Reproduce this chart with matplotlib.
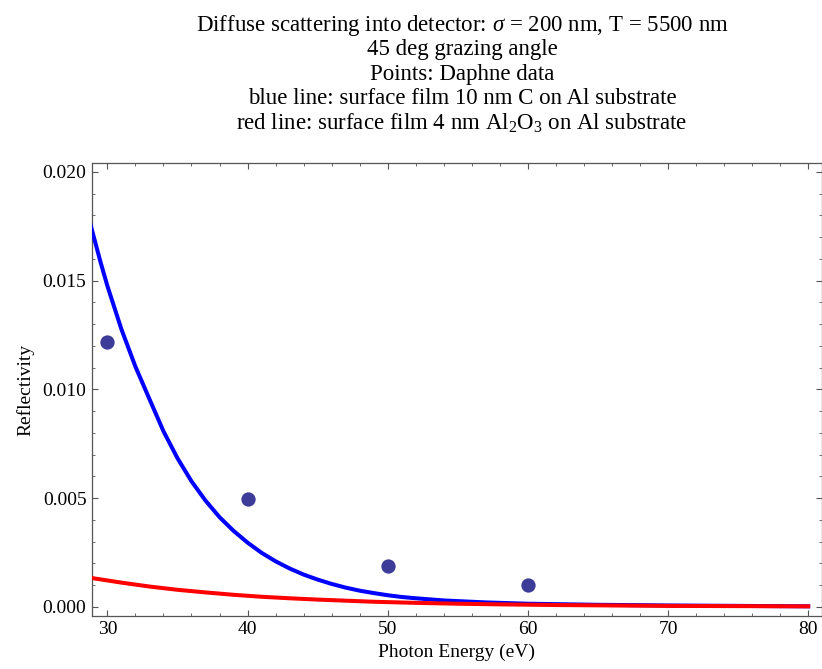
import matplotlib
matplotlib.use("Agg")
import matplotlib.pyplot as plt
from matplotlib.ticker import MultipleLocator

plt.rcParams["font.family"] = ["Liberation Serif", "DejaVu Serif"]
plt.rcParams["mathtext.fontset"] = "custom"
plt.rcParams["mathtext.rm"] = "Liberation Serif"
plt.rcParams["mathtext.it"] = "Liberation Serif:italic"

# Daphne data points
energy_pts = [30, 40, 50, 60]
refl_pts = [0.01218, 0.00497, 0.00187, 0.00098]

# blue line: 10 nm C film on Al
energy_c = [28.8, 29.5, 30, 31, 32, 33, 34, 35, 36, 37, 38, 39, 40, 41, 42,
            43, 44, 45, 46, 47, 48, 49, 50, 51, 52, 53, 54, 55, 56, 57, 58,
            60, 62, 65, 70, 75, 80]
refl_c = [0.01756, 0.01587, 0.01475, 0.01276, 0.01104, 0.00955, 0.00807,
          0.00683, 0.00577, 0.00488, 0.00412, 0.00349, 0.00295, 0.00248,
          0.00209, 0.00176, 0.00148, 0.00125, 0.00105, 0.00088, 0.00074,
          0.00063, 0.00053, 0.00045, 0.00039, 0.00034, 0.00029, 0.00026,
          0.00023, 0.00020, 0.00018, 0.00014, 0.00012, 0.00009, 0.00006,
          0.00004, 0.00002]

# red line: 4 nm Al2O3 film on Al
energy_ox = [28.8, 31, 33, 35, 37, 39, 41, 43, 45, 47, 49, 52, 55, 58, 62,
             66, 70, 75, 80]
refl_ox = [0.00133, 0.00111, 0.00093, 0.00078, 0.00066, 0.00055, 0.00046,
           0.00039, 0.00033, 0.00028, 0.00023, 0.00018, 0.00014, 0.00011,
           0.00008, 0.00006, 0.00004, 0.00003, 0.00002]

title_lines = [
    r"Diffuse scattering into detector: $\sigma$ = 200 nm, T = 5500 nm",
    "45 deg grazing angle",
    "Points: Daphne data",
    "blue line: surface film 10 nm C on Al substrate",
    r"red line: surface film 4 nm Al$_2$O$_3$ on Al substrate",
]

fig = plt.figure(figsize=(8.22, 6.69), dpi=100)
ax = fig.add_axes([0.1119, 0.0797, 0.8875, 0.6762])

ax.plot(energy_c, refl_c, color="#0000ff", lw=2.9, solid_joinstyle="round", zorder=3)
ax.plot(energy_ox, refl_ox, color="#ff0000", lw=2.9, solid_joinstyle="round", zorder=3)
ax.plot(energy_pts, refl_pts, "o", color="#3d3d99", ms=10.3, mec="none", zorder=4)

ax.set_xlim(28.9, 80.95)
ax.set_ylim(-0.00041, 0.02039)
ax.xaxis.set_major_locator(MultipleLocator(10))
ax.xaxis.set_minor_locator(MultipleLocator(2))
ax.yaxis.set_major_locator(MultipleLocator(0.005))
ax.yaxis.set_minor_locator(MultipleLocator(0.001))
ax.yaxis.set_major_formatter(plt.FormatStrFormatter("%.3f"))

ax.tick_params(which="both", direction="in", top=True, right=True,
               color="#555555", labelsize=14, pad=4)
ax.tick_params(which="major", length=4.5, width=0.8)
ax.tick_params(which="minor", length=2.2, width=0.6)
for s in ax.spines.values():
    s.set_color("#555555")
    s.set_linewidth(0.9)

ax.set_xlabel("Photon Energy (eV)", fontsize=14, labelpad=4)
ax.set_ylabel("Reflectivity", fontsize=14, labelpad=6)

ys = [22, 47, 72, 96, 121]
for line, y in zip(title_lines, ys):
    fig.text(0.562, 1 - y / 669, line, ha="center", va="center_baseline", fontsize=16.5)

fig.savefig("out.png", dpi=100)
